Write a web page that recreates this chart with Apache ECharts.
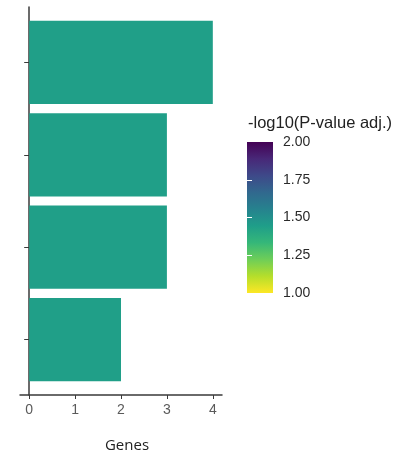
<!DOCTYPE html>
<html>
<head>
<meta charset="utf-8">
<script src="https://cdn.jsdelivr.net/npm/echarts@6/dist/echarts.min.js"></script>
<style>
  html, body { margin: 0; padding: 0; background: #fff; }
  #chart { width: 405px; height: 456px; }
</style>
</head>
<body>
<div id="chart"></div>
<script>
// Enrichment terms (top to bottom), gene counts and -log10 adjusted p-values
const terms = ['Term A', 'Term B', 'Term C', 'Term D'];
const genes = [4, 3, 3, 2];
const padjLog = [1.44, 1.44, 1.44, 1.44];
const geneTicks = [0, 1, 2, 3, 4];
const colorTicks = [1.00, 1.25, 1.50, 1.75, 2.00];

// viridis, from low (1.00, yellow) to high (2.00, purple)
const viridisLowToHigh = ['#fde725', '#b5de2b', '#6ece58', '#35b779', '#1f9e89',
  '#26828e', '#31688e', '#3e4989', '#482878', '#440154'];

const barData = terms.map((t, i) => [i + 1, genes[i], padjLog[i], t]);

const chart = echarts.init(document.getElementById('chart'));
const axisColor = '#3a3a3a';
const sans = '"Liberation Sans", Arial, sans-serif';

chart.setOption({
  animation: false,
  grid: [
    { left: 20, right: 183, top: 7, bottom: 61, outerBoundsMode: 'none', containLabel: false },
    { left: 247, width: 26, top: 142, height: 151, outerBoundsMode: 'none', containLabel: false }
  ],
  xAxis: [
    {
      gridIndex: 0, type: 'value', min: -0.2, max: 4.2,
      splitLine: { show: false },
      axisLine: { show: true, lineStyle: { color: axisColor, width: 1.5 } },
      axisTick: { show: true, length: 4, customValues: geneTicks, lineStyle: { color: axisColor } },
      axisLabel: { customValues: geneTicks, color: '#5a5a5a', fontSize: 14, margin: 8, fontFamily: sans },
      name: 'Genes', nameLocation: 'middle', nameGap: 43,
      nameTextStyle: { color: '#222', fontSize: 15, fontFamily: 'Open Sans', padding: [0, 0, 0, 12] }
    },
    { gridIndex: 1, type: 'value', min: 0, max: 1, show: false }
  ],
  yAxis: [
    {
      gridIndex: 0, type: 'value', min: 0.4, max: 4.6, inverse: true,
      splitLine: { show: false },
      axisLine: { show: true, lineStyle: { color: axisColor, width: 1.5 } },
      axisTick: { show: true, length: 5, customValues: [1, 2, 3, 4], lineStyle: { color: axisColor } },
      axisLabel: { show: false }
    },
    {
      gridIndex: 1, type: 'value', min: 1, max: 2, position: 'right', z: 5,
      splitLine: { show: false },
      axisLine: { show: false },
      axisTick: { show: true, inside: true, length: 5, customValues: [1.25, 1.5, 1.75], lineStyle: { color: '#fff', width: 1 } },
      axisLabel: { customValues: colorTicks, formatter: v => v.toFixed(2), color: '#2a2a2a', fontSize: 14, margin: 10, fontFamily: sans }
    },
    {
      gridIndex: 1, type: 'value', min: 1, max: 2, position: 'left', z: 5,
      splitLine: { show: false },
      axisLine: { show: false },
      axisTick: { show: true, inside: true, length: 5, customValues: [1.25, 1.5, 1.75], lineStyle: { color: '#fff', width: 1 } },
      axisLabel: { show: false }
    }
  ],
  visualMap: {
    show: false, type: 'continuous', min: 1, max: 2, dimension: 2, seriesIndex: 0,
    inRange: { color: viridisLowToHigh }
  },
  graphic: [{
    type: 'text', left: 248, top: 115,
    style: { text: '-log10(P-value adj.)', fill: '#222', fontSize: 16.5, fontFamily: sans }
  }],
  series: [
    {
      type: 'custom', xAxisIndex: 0, yAxisIndex: 0,
      encode: { x: 1, y: 0 },
      data: barData,
      renderItem: (params, api) => {
        const pos = api.value(0), val = api.value(1);
        const a = api.coord([0, pos - 0.45]);
        const b = api.coord([val, pos + 0.45]);
        return {
          type: 'rect',
          shape: { x: Math.min(a[0], b[0]), y: Math.min(a[1], b[1]), width: Math.abs(b[0] - a[0]), height: Math.abs(b[1] - a[1]) },
          style: { fill: api.visual('color') }
        };
      }
    },
    {
      type: 'custom', xAxisIndex: 1, yAxisIndex: 1, z: 1,
      data: [[0, 1]],
      renderItem: (params, api) => {
        const top = api.coord([0, 2]);
        const bottom = api.coord([1, 1]);
        const n = viridisLowToHigh.length;
        const stops = viridisLowToHigh.slice().reverse().map((c, i) => ({ offset: i / (n - 1), color: c }));
        return {
          type: 'rect',
          shape: { x: top[0], y: top[1], width: bottom[0] - top[0], height: bottom[1] - top[1] },
          style: { fill: new echarts.graphic.LinearGradient(0, 0, 0, 1, stops) }
        };
      }
    }
  ]
});
</script>
</body>
</html>
